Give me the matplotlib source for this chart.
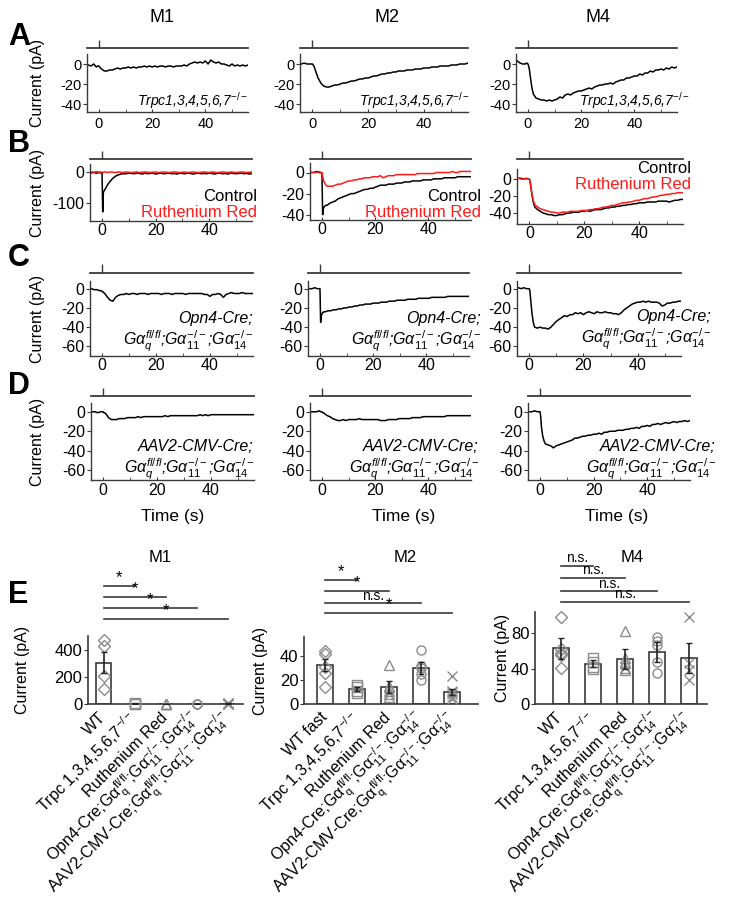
import numpy as np
import matplotlib
matplotlib.use("Agg")
import matplotlib.pyplot as plt
from matplotlib.transforms import blended_transform_factory

plt.rcParams["font.family"] = ["Liberation Sans", "DejaVu Sans"]
plt.rcParams["mathtext.fontset"] = "custom"
plt.rcParams["mathtext.rm"] = "Liberation Sans"
plt.rcParams["mathtext.it"] = "Liberation Sans:italic"
plt.rcParams["mathtext.bf"] = "Liberation Sans:bold"
plt.rcParams["axes.unicode_minus"] = False

# ---------------- data ----------------
# sample times (s) of the traces
t = np.r_[-4:0, -0.5, 0, 0.25, 0.5, 1, 1.5, 2:58]
stim_on = 0

# row A (Trpc1,3,4,5,6,7-/-)
a_m1 = [-1, -2, 0, -3, -2, -2, -3, -4, -5, -6,
        -7, -7, -6, -6, -5, -4, -5, -4, -4, -3, -4, -3, -4, -3,
        -3, -2, -3, -2, -3, -2, -3, -2, -2, -3, -2, -2, -3, -2,
        -2, -2, -1, -2, 0, 1, 2, 1, 2, 1, 3, 0, 4, 2,
        1, 2, 0, 0, -1, -2, 0, -2, -1, -2, -1, -2, -1, -2]
a_m2 = [0, 1, 0, 0, 0, 0, -1, -2, -6, -10,
        -14, -19, -22, -23, -23, -22, -21, -21, -20, -19, -19, -18, -17, -17,
        -16, -15, -15, -14, -14, -13, -12, -12, -11, -10, -10, -9, -9, -8,
        -8, -7, -7, -7, -6, -6, -6, -5, -5, -5, -4, -4, -4, -3,
        -3, -3, -2, -2, -2, -2, -1, -1, -1, 0, 0, 0, 1, 1]
a_m4 = [3, 1, 0, 0, 1, 0, -2, -5, -15, -24,
        -30, -34, -35, -36, -36, -37, -36, -37, -36, -35, -33, -34, -31, -30,
        -31, -29, -28, -27, -27, -26, -25, -24, -25, -23, -22, -21, -21, -20,
        -20, -19, -20, -18, -17, -16, -16, -14, -14, -13, -12, -12, -10, -11,
        -9, -9, -7, -8, -6, -6, -5, -6, -4, -5, -3, -4, -3, -3]

# row B (control vs ruthenium red)
b_m1_ctrl = [-2, -1, -3, -1, -2, -4, -130, -65, -58, -50,
             -42, -30, -20, -13, -9, -6, -5, -5, -3, -4, -5, -3, -4, -6,
             -3, -5, -4, -3, -6, -4, -3, -5, -4, -3, -5, -4, -6, -3,
             -4, -5, -3, -4, -6, -4, -3, -5, -4, -5, -3, -4, -6, -4,
             -3, -5, -4, -6, -3, -4, -5, -4, -3, -5, -4, -6, -4, -5]
b_m1_rr = [1, 0, 2, 0, 1, 0, -1, 0, 1, 0,
           -1, 1, 0, -1, 1, 0, -1, 1, 0, -1, 0, 1, -1, 0,
           1, 0, -1, 0, 1, -1, 0, 1, 0, -1, 0, 1, 0, -1,
           0, 1, -1, 0, 1, 0, -1, 0, 1, 0, -1, 1, 0, -1,
           0, 1, 0, -1, 1, 0, -1, 0, 1, 0, -1, 0, 1, 0]
b_m2_ctrl = [0, 0, 1, 0, 0, -1, -40, -34, -32, -31,
             -31, -29, -28, -27, -25, -24, -23, -22, -21, -20, -20, -19, -18, -17,
             -16, -16, -15, -15, -14, -13, -12, -12, -12, -11, -11, -11, -10, -10,
             -10, -9, -9, -9, -8, -8, -8, -8, -7, -7, -7, -7, -6, -6,
             -6, -6, -5, -5, -5, -5, -5, -4, -4, -4, -4, -4, -4, -4]
b_m2_rr = [0, 0, 0, 1, 0, 0, -3, -7, -10, -12,
           -13, -13, -13, -12, -11, -11, -10, -9, -8, -8, -7, -7, -6, -6,
           -5, -5, -5, -4, -4, -4, -3, -5, -4, -3, -3, -3, -2, -2,
           -2, -2, -2, -2, -2, -2, -1, -1, -1, -1, -1, -1, -1, 0,
           0, 0, 0, 0, 0, 1, 0, 0, 1, 1, 1, 1, 1, 1]
b_m4_ctrl = [1, 1, 0, 1, 0, 0, -2, -8, -20, -28,
             -33, -36, -38, -40, -41, -42, -42, -43, -43, -42, -42, -41, -40, -40,
             -39, -39, -39, -38, -38, -37, -38, -37, -36, -36, -36, -35, -34, -34,
             -33, -33, -32, -32, -31, -31, -30, -30, -29, -29, -28, -28, -28, -27,
             -27, -27, -27, -26, -26, -26, -26, -27, -26, -25, -25, -24, -24, -24]
b_m4_rr = [1, 0, 0, 1, 0, 0, -2, -8, -18, -26,
           -30, -33, -35, -36, -37, -38, -39, -39, -40, -40, -39, -39, -39, -38,
           -38, -38, -38, -37, -37, -37, -36, -36, -35, -35, -34, -33, -33, -32,
           -31, -31, -30, -29, -28, -28, -27, -27, -26, -25, -25, -24, -23, -23,
           -22, -21, -21, -20, -19, -19, -18, -18, -17, -17, -16, -16, -16, -16]

# row C (Opn4-Cre; Gq/11/14 knockout)
c_m1 = [0, -1, -1, -2, -2, -3, -3, -4, -5, -7,
        -9, -12, -13, -9, -7, -6, -6, -5, -6, -5, -5, -6, -5, -5,
        -5, -6, -5, -5, -5, -5, -6, -5, -5, -5, -6, -5, -5, -5,
        -5, -6, -5, -5, -5, -5, -5, -5, -6, -6, -8, -6, -6, -5,
        -6, -9, -6, -5, -4, -5, -5, -5, -4, -5, -5, -5, -5, -5]
c_m2 = [0, 0, 1, 0, 0, 0, -35, -28, -25, -24,
        -24, -23, -23, -22, -22, -21, -21, -20, -20, -19, -19, -18, -18, -17,
        -17, -16, -16, -16, -15, -15, -15, -14, -14, -14, -13, -13, -13, -12,
        -12, -12, -12, -11, -11, -11, -11, -10, -10, -10, -10, -10, -9, -9,
        -9, -9, -9, -9, -8, -8, -8, -8, -8, -8, -8, -8, -8, -8]
c_m4 = [1, 0, 1, 0, 0, 0, -2, -10, -25, -35,
        -40, -41, -40, -41, -41, -42, -40, -37, -34, -32, -30, -28, -29, -27,
        -27, -25, -26, -25, -27, -25, -24, -25, -26, -24, -25, -25, -24, -25,
        -25, -26, -26, -27, -25, -22, -20, -18, -16, -15, -14, -14, -13, -14,
        -13, -14, -14, -14, -15, -18, -17, -15, -15, -14, -14, -13, -13, -13]

# row D (AAV2-CMV-Cre; Gq/11/14 knockout)
d_m1 = [0, 0, -1, 0, 0, 0, -1, -1, -2, -4,
        -6, -8, -8, -8, -7, -7, -7, -6, -6, -6, -6, -5, -6, -5,
        -5, -5, -5, -5, -5, -5, -5, -4, -5, -4, -4, -4, -4, -4,
        -4, -4, -4, -4, -4, -4, -3, -4, -3, -4, -3, -3, -3, -3,
        -3, -3, -3, -3, -3, -3, -3, -3, -3, -3, -3, -3, -3, -3]
d_m2 = [0, 0, 0, 1, 0, 0, -1, -1, -2, -3,
        -4, -5, -7, -8, -9, -9, -8, -9, -8, -8, -8, -8, -7, -8,
        -8, -8, -8, -8, -8, -8, -9, -9, -9, -8, -8, -8, -8, -7,
        -7, -7, -7, -7, -6, -6, -6, -6, -5, -5, -5, -5, -5, -5,
        -5, -5, -5, -4, -4, -4, -4, -4, -4, -4, -4, -4, -4, -4]
d_m4 = [0, 0, 1, 0, 0, 0, -5, -15, -25, -30,
        -33, -34, -35, -37, -35, -34, -33, -32, -31, -30, -29, -27, -27, -26,
        -25, -25, -24, -24, -23, -23, -22, -23, -21, -21, -20, -20, -20, -19,
        -19, -19, -18, -18, -17, -17, -16, -17, -15, -15, -14, -15, -13, -13,
        -12, -13, -12, -11, -12, -11, -10, -11, -10, -10, -9, -10, -9, -9]

# panel E: peak currents
cell_types = ["M1", "M2", "M4"]
gq = r"$\mathregular{G\alpha_q^{fl/fl}}$;$\mathregular{G\alpha_{11}^{-/-}}$;$\mathregular{G\alpha_{14}^{-/-}}$"
group_labels = ["WT", "Trpc 1,3,4,5,6,7$^{-/-}$", "Ruthenium Red",
                "Opn4-Cre;" + gq, "AAV2-CMV-Cre;" + gq]
first_label = ["WT", "WT fast", "WT"]

m1_mean = [304, 3, 2, 2, 3]
m1_sem = [78, 1, 1, 1, 1]
m1_pts = [[469, 424, 209, 111], [4, 2, 3], [3, 1, 2, 0], [3, 1, 2], [5, 2, 3, 1, 4]]
m2_mean = [32.8, 12.5, 14.5, 30.4, 10.3]
m2_sem = [5, 1.5, 5, 5, 2.5]
m2_pts = [[44.4, 41.7, 30.6, 26, 13.9], [16, 14, 11, 9], [33, 14, 11, 8, 6, 15],
          [45, 32, 30, 25, 20], [23, 10, 8, 6, 4, 11]]
m4_mean = [63, 45.5, 51, 59, 52]
m4_sem = [12, 4, 11, 11, 17]
m4_pts = [[98, 62, 58, 55, 41], [52, 48, 42, 40], [82, 52, 46, 41, 38, 47],
          [76, 71, 67, 47, 35], [98, 46, 38, 27]]
markers = ["D", "s", "^", "o", "x"]

m1_sig = ["*", "*", "*", "*"]
m2_sig = ["*", "*", "n.s.", "*"]
m4_sig = ["n.s.", "n.s.", "n.s.", "n.s."]

# ---------------- figure ----------------
W, H = 750, 906
fig = plt.figure(figsize=(W / 100, H / 100), dpi=100)
DARK = "#3a3a3a"
RED = "#ff1a1a"


def px_axes(x0, x1, ytop, ybot):
    ax = fig.add_axes([x0 / W, 1 - ybot / H, (x1 - x0) / W, (ybot - ytop) / H])
    ax.patch.set_alpha(0)
    return ax


def ftext(x, y, s, **kw):
    fig.text(x / W, 1 - y / H, s, **kw)


rows = [
    dict(letter="A", ly=37, box=[(54, 112)] * 3, stim=48, tick=40, pad=3.5, fs=10.5,
         xs=[(87, 248), (300, 468), (516, 677)],
         ylims=[(-48, 10), (-48, 10), (-48, 10)],
         yticks=[[0, -20, -40]] * 3,
         traces=[[(a_m1, "k")], [(a_m2, "k")], [(a_m4, "k")]]),
    dict(letter="B", ly=144, box=[(164, 221), (163, 220), (169, 224)], stim=159,
         tick=151, pad=1.5, fs=11.5,
         xs=[(90, 252), (310, 471), (517, 683)],
         ylims=[(-160, 27), (-45, 9), (-53, 12)],
         yticks=[[0, -100], [0, -20, -40], [0, -20, -40]],
         traces=[[(b_m1_ctrl, "k"), (b_m1_rr, RED)],
                 [(b_m2_ctrl, "k"), (b_m2_rr, RED)],
                 [(b_m4_ctrl, "k"), (b_m4_rr, RED)]]),
    dict(letter="C", ly=258, box=[(281, 356)] * 3, stim=273, tick=264, pad=1.5, fs=11.5,
         xs=[(90, 253), (308, 469), (517, 681)],
         ylims=[(-70, 8)] * 3,
         yticks=[[0, -20, -40, -60]] * 3,
         traces=[[(c_m1, "k")], [(c_m2, "k")], [(c_m4, "k")]]),
    dict(letter="D", ly=386, box=[(403, 480)] * 3, stim=396, tick=388, pad=2.5, fs=11.5,
         xs=[(91, 254), (310, 471), (528, 690)],
         ylims=[(-70, 9)] * 3,
         yticks=[[0, -20, -40, -60]] * 3,
         traces=[[(d_m1, "k")], [(d_m2, "k")], [(d_m4, "k")]]),
]

for r in rows:
    ftext(8, r["ly"], r["letter"], fontsize=22, fontweight="bold", va="center")
    for j in range(3):
        x0, x1 = r["xs"][j]
        top, bot = r["box"][j]
        ax = px_axes(x0, x1, top, bot)
        for data, col in r["traces"][j]:
            ax.plot(t, data, color=col, lw=1.1)
        ax.set_xlim(-4.5, 56)
        ax.set_ylim(*r["ylims"][j])
        ax.set_xticks([0, 20, 40])
        ax.set_xticks([10, 30, 50], minor=True)
        ax.set_yticks(r["yticks"][j])
        for s in ["top", "right"]:
            ax.spines[s].set_visible(False)
        for s in ["left", "bottom"]:
            ax.spines[s].set_color(DARK)
            ax.spines[s].set_linewidth(1.0)
        ax.tick_params(axis="x", which="both", direction="in", length=2.5,
                       color=DARK, labelsize=r["fs"], pad=r["pad"])
        ax.tick_params(axis="y", direction="out", length=3, color=DARK,
                       labelsize=r["fs"], pad=1)
        if j == 0:
            ax.set_ylabel("Current (pA)", fontsize=11.5)
            ax.yaxis.set_label_coords((45 - x0) / (x1 - x0), 0.5)
        # stimulus marker
        sx = px_axes(x0, x1, r["tick"], r["stim"])
        sx.set_xlim(-4.5, 56)
        sx.set_ylim(0, 1)
        sx.axhline(0, color=DARK, lw=1.3, clip_on=False)
        sx.vlines(stim_on, 0, 1, color=DARK, lw=1.0)
        sx.axis("off")

# column titles and time labels
col_centers = [162, 387, 598]
time_centers = [173, 404, 617]
for j, name in enumerate(cell_types):
    ftext(col_centers[j], 17, name, fontsize=13, ha="center", va="center")
    ftext(time_centers[j], 517, "Time (s)", fontsize=12.5, ha="center", va="center")

# annotations
trpc = "Trpc1,3,4,5,6,7$^{-/-}$"
for xr in [248, 470, 690]:
    ftext(xr, 106, trpc, fontsize=10, style="italic", ha="right", va="baseline")

b_pos = [(257, 201, 217), (481, 201, 217), (691, 173, 189)]
for xr, y1, y2 in b_pos:
    ftext(xr, y1, "Control", fontsize=12, ha="right", va="baseline", color="k")
    ftext(xr, y2, "Ruthenium Red", fontsize=12, ha="right", va="baseline", color=RED)

gq_it = r"$G\alpha_q^{fl/fl}$;$G\alpha_{11}^{-/-}$;$G\alpha_{14}^{-/-}$"
c_pos = [(253, 323, 345), (481, 323, 345), (711, 321, 343)]
for xr, y1, y2 in c_pos:
    ftext(xr, y1, "Opn4-Cre;", fontsize=11.5, style="italic", ha="right", va="baseline")
    ftext(xr, y2, gq_it, fontsize=11.5, style="italic", ha="right", va="baseline")
d_pos = [(254, 451, 473), (479, 451, 473), (716, 451, 473)]
for xr, y1, y2 in d_pos:
    ftext(xr, y1, "AAV2-CMV-Cre;", fontsize=11.5, style="italic", ha="right", va="baseline")
    ftext(xr, y2, gq_it, fontsize=11.5, style="italic", ha="right", va="baseline")

# ---------------- panel E ----------------
ftext(8, 595, "E", fontsize=22, fontweight="bold", va="center")
e_layout = [
    dict(x=(88, 243), top=636, ylim=(0, 500), xlim=(-0.5, 4.5), yticks=[0, 200, 400],
         mean=m1_mean, sem=m1_sem, pts=m1_pts, sig=m1_sig,
         sig_y=[586, 597, 608, 619], title_x=160, ylab_x=30),
    dict(x=(304, 478), top=637, ylim=(0, 56), xlim=(-0.65, 4.8), yticks=[0, 20, 40],
         mean=m2_mean, sem=m2_sem, pts=m2_pts, sig=m2_sig,
         sig_y=[580, 591, 603, 613], title_x=405, ylab_x=268),
    dict(x=(535, 707), top=612, ylim=(0, 104), xlim=(-0.8, 4.56), yticks=[0, 40, 80],
         mean=m4_mean, sem=m4_sem, pts=m4_pts, sig=m4_sig,
         sig_y=[566, 578, 591, 602], title_x=632, ylab_x=510),
]
E_BOT = 704
for j, e in enumerate(e_layout):
    ax = px_axes(e["x"][0], e["x"][1], e["top"], E_BOT)
    pos = np.arange(len(e["mean"]))
    ax.bar(pos, e["mean"], width=0.5, color="white", edgecolor=DARK, lw=1.2, zorder=2)
    for i, vals in enumerate(e["pts"]):
        ax.plot([pos[i]] * len(vals), vals, linestyle="none", marker=markers[i],
                markersize=6.5 if markers[i] != "x" else 7.5, mfc="none", mec="#8c8c8c",
                mew=1.0, zorder=3, clip_on=False)
    ax.errorbar(pos, e["mean"], yerr=e["sem"], fmt="none", ecolor="#222222",
                elinewidth=1.2, capsize=2.5, capthick=1.0, zorder=4)
    ax.set_xlim(*e["xlim"])
    ax.set_ylim(*e["ylim"])
    ax.set_yticks(e["yticks"])
    labels = [first_label[j]] + group_labels[1:]
    ax.set_xticks(pos)
    ax.set_xticklabels(labels, rotation=45, ha="right", va="center",
                       rotation_mode="anchor", fontsize=11.6)
    for s in ["top", "right"]:
        ax.spines[s].set_visible(False)
    for s in ["left", "bottom"]:
        ax.spines[s].set_color(DARK)
        ax.spines[s].set_linewidth(1.2)
    ax.tick_params(axis="x", length=0, pad=8)
    ax.tick_params(axis="y", direction="out", length=3, color=DARK, labelsize=12, pad=1)
    ax.set_ylabel("Current (pA)", fontsize=11.5)
    ax.yaxis.set_label_coords((e["ylab_x"] - e["x"][0]) / (e["x"][1] - e["x"][0]), 0.5)

    ftext(e["title_x"], 557, cell_types[j], fontsize=12, ha="center", va="center")
    tr = blended_transform_factory(ax.transData, fig.transFigure)
    for k, lab in enumerate(e["sig"]):
        yf = 1 - e["sig_y"][k] / H
        ax.plot([pos[0], pos[k + 1]], [yf, yf], color=DARK, lw=1.2,
                transform=tr, clip_on=False)
        ax.text((pos[0] + pos[k + 1]) / 2, yf + 0.5 / H, lab, transform=tr,
                ha="center", va="bottom", fontsize=10 if lab != "*" else 12)

fig.savefig("out.png", dpi=100)
